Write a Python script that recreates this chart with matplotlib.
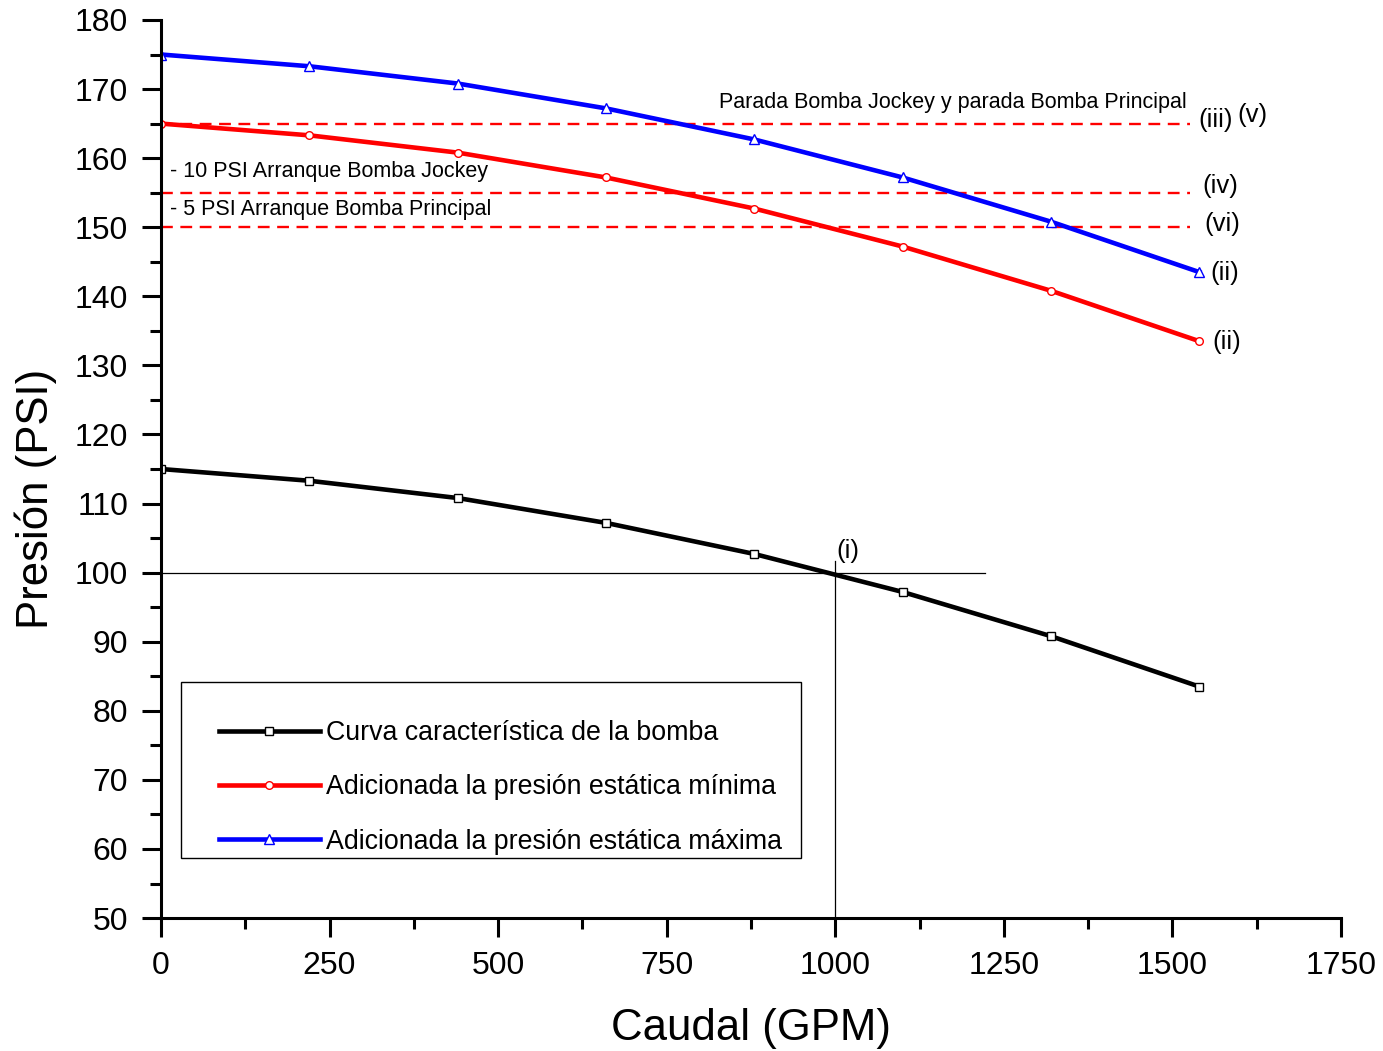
import matplotlib
matplotlib.use("Agg")
import matplotlib.pyplot as plt
from matplotlib.ticker import MultipleLocator
from matplotlib.patches import Rectangle

plt.rcParams['font.family'] = ['Liberation Sans', 'DejaVu Sans']

# Flow rates (GPM) and pressures (PSI)
caudal = [0, 220, 440, 660, 880, 1100, 1320, 1540]
curva_bomba = [115.0, 113.3, 110.8, 107.2, 102.7, 97.2, 90.8, 83.5]
presion_min = [165.0, 163.3, 160.8, 157.2, 152.7, 147.2, 140.8, 133.5]
presion_max = [175.0, 173.3, 170.8, 167.2, 162.7, 157.2, 150.8, 143.5]

labels = ["Curva característica de la bomba",
          "Adicionada la presión estática mínima",
          "Adicionada la presión estática máxima"]

# Set points for the pressure switches
parada = 165
arranque_jockey = 155
arranque_principal = 150
limite_consignas = 1526

# Operating point
punto_caudal = 1000
punto_presion = 100

fig = plt.figure(figsize=(13.83, 10.51), dpi=100)
ax = fig.add_axes([0.1164, 0.1265, 0.8532, 0.8545])

mk = dict(markersize=5.5, markerfacecolor='white', markeredgewidth=1.0)
ax.plot(caudal, curva_bomba, color='black', lw=3.3, marker='s', markeredgecolor='black', label=labels[0], **mk)
ax.plot(caudal, presion_min, color='#ff0000', lw=3.3, marker='o', markeredgecolor='#ff0000', label=labels[1], **mk)
ax.plot(caudal, presion_max, color='#0000ff', lw=3.3, marker='^', markeredgecolor='#0000ff', label=labels[2],
        markersize=6.5, markerfacecolor='white', markeredgewidth=1.0)

for yv in (parada, arranque_jockey, arranque_principal):
    ax.plot([0, limite_consignas], [yv, yv], color='#ff0000', lw=1.7, ls=(0, (5.0, 3.2)), zorder=1)

ax.plot([0, 1222], [punto_presion, punto_presion], color='black', lw=0.9, zorder=1)
ax.plot([punto_caudal, punto_caudal], [50, 101.7], color='black', lw=0.9, zorder=1)

tfs = 15.5
ax.text(1522, 168.0, "Parada Bomba Jockey y parada Bomba Principal", fontsize=tfs, ha='right', va='center')
ax.text(13, 158.0, "- 10 PSI Arranque Bomba Jockey", fontsize=tfs, ha='left', va='center')
ax.text(13, 152.5, "- 5 PSI Arranque Bomba Principal", fontsize=tfs, ha='left', va='center')

rfs = 18.5
ax.text(1538, 165.5, "(iii)", fontsize=rfs, ha='left', va='center')
ax.text(1597, 166.2, "(v)", fontsize=rfs, ha='left', va='center')
ax.text(1544, 156.0, "(iv)", fontsize=rfs, ha='left', va='center')
ax.text(1547, 150.5, "(vi)", fontsize=rfs, ha='left', va='center')
ax.text(1556, 143.4, "(ii)", fontsize=rfs, ha='left', va='center')
ax.text(1559, 133.4, "(ii)", fontsize=rfs, ha='left', va='center')
ax.text(1001, 103.1, "(i)", fontsize=rfs, ha='left', va='center')

ax.set_xlim(0, 1750)
ax.set_ylim(50, 180)
ax.xaxis.set_major_locator(MultipleLocator(250))
ax.xaxis.set_minor_locator(MultipleLocator(125))
ax.yaxis.set_major_locator(MultipleLocator(10))
ax.yaxis.set_minor_locator(MultipleLocator(5))

for s in ('top', 'right'):
    ax.spines[s].set_visible(False)
for s in ('left', 'bottom'):
    ax.spines[s].set_linewidth(2.2)

ax.tick_params(which='major', direction='out', length=13.5, width=2.2, labelsize=23, pad=10)
ax.tick_params(which='minor', direction='out', length=8, width=2.2)

ax.set_xlabel("Caudal (GPM)", fontsize=31.5, labelpad=20)
ax.set_ylabel("Presión (PSI)", fontsize=31.5)
ax.yaxis.set_label_coords(-0.088, 0.4666)

# Legend entries without frame, boxed by a separate rectangle
leg = ax.legend(loc='upper left', bbox_to_anchor=(0.0492, 0.2205), borderaxespad=0,
                fontsize=19.3, numpoints=1, handlelength=3.75, handletextpad=0.25,
                labelspacing=1.055, frameon=False, borderpad=0)
ax.add_patch(Rectangle((0.01695, 0.0668), 0.5254, 0.196, transform=ax.transAxes,
                       fill=False, edgecolor='black', lw=1.0, zorder=5))

fig.savefig("out.png", dpi=100)
